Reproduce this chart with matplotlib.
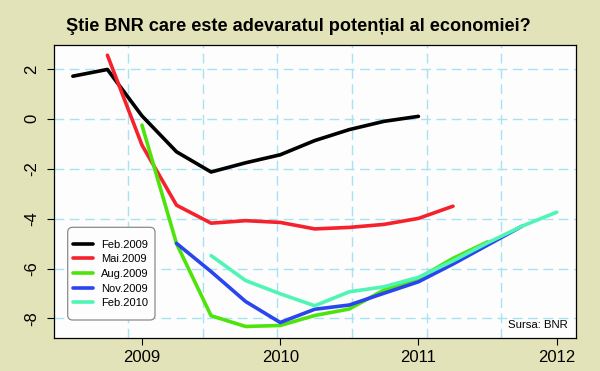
import numpy as np
import matplotlib
matplotlib.use("Agg")
import matplotlib.pyplot as plt
from matplotlib import font_manager
from matplotlib.patches import FancyBboxPatch

# ---------------- data ----------------
quarters = [2008.5, 2008.75, 2009.0, 2009.25, 2009.5, 2009.75, 2010.0, 2010.25,
            2010.5, 2010.75, 2011.0, 2011.25, 2011.5, 2011.75, 2012.0]
nan = np.nan
feb2009 = [1.71, 1.98, 0.12, -1.32, -2.13, -1.76, -1.44, -0.87, -0.43, -0.10, 0.10, nan, nan, nan, nan]
mai2009 = [nan, 2.55, -1.05, -3.46, -4.18, -4.08, -4.15, -4.41, -4.35, -4.23, -3.99, -3.50, nan, nan, nan]
aug2009 = [nan, nan, -0.25, -5.00, -7.89, -8.32, -8.28, -7.88, -7.62, -6.86, -6.39, -5.59, -4.93, nan, nan]
nov2009 = [nan, nan, nan, -4.99, -6.12, -7.32, -8.16, -7.63, -7.46, -6.99, -6.53, -5.82, -5.06, -4.30, nan]
feb2010 = [nan, nan, nan, nan, -5.48, -6.48, -7.01, -7.49, -6.93, -6.73, -6.35, -5.69, -4.97, -4.30, -3.74]

series_labels = ["Feb.2009", "Mai.2009", "Aug.2009", "Nov.2009", "Feb.2010"]
series_values = [feb2009, mai2009, aug2009, nov2009, feb2010]
series_colors = ["#000000", "#f5222d", "#4ee40b", "#2a45f0", "#4ff5b4"]

x_ticks = [2009, 2010, 2011, 2012]
y_ticks = [-8, -6, -4, -2, 0, 2]
title = "Ştie BNR care este adevaratul potențial al economiei?"
source = "Sursa: BNR"

# ---------------- fonts ----------------
names = {f.name for f in font_manager.fontManager.ttflist}
narrow = "Liberation Sans Narrow" if "Liberation Sans Narrow" in names else "Liberation Sans"
regular = "Liberation Sans"

W, H, DPI = 600, 371, 100
bg = "#e3e3b9"
fig = plt.figure(figsize=(W / DPI, H / DPI), dpi=DPI, facecolor=bg)

l, r, b, t = 53.5, 576, 337.7, 45
ax = fig.add_axes([l / W, (H - b) / H, (r - l) / W, (b - t) / H])
ax.set_facecolor("#fdfdfd")

xlim = (2008.36, 2012.14)
ylim = (-8.77, 2.96)
ax.set_xlim(*xlim)
ax.set_ylim(*ylim)

grid_kw = dict(color="#a6e2f2", lw=1.0, dashes=(7, 4), zorder=1)
for k in range(1, 7):
    ax.axvline(xlim[0] + k * (xlim[1] - xlim[0]) / 7, **grid_kw)
for yv in y_ticks:
    ax.axhline(yv, **grid_kw)

for vals, lab, col in zip(series_values, series_labels, series_colors):
    ax.plot(quarters, vals, color=col, lw=2.6, label=lab, zorder=3,
            solid_capstyle="round", solid_joinstyle="round")

ax.set_xticks(x_ticks)
ax.set_xticklabels([str(v) for v in x_ticks], fontfamily=narrow, fontsize=12)
ax.set_yticks(y_ticks)
ax.set_yticklabels([str(v) for v in y_ticks], fontfamily=narrow, fontsize=12,
                   rotation=90, va="center")
ax.tick_params(axis="x", length=5, width=0.8, pad=4, colors="black")
ax.tick_params(axis="y", length=5, width=0.8, pad=5, colors="black")
for s in ax.spines.values():
    s.set_linewidth(0.9)
    s.set_color("black")

# legend box (rounded) and legend entries
box = FancyBboxPatch((67.7 / DPI, (H - 320) / DPI), (155 - 67.7) / DPI, (320 - 227.3) / DPI,
                     boxstyle="round,pad=0,rounding_size=0.05",
                     transform=fig.dpi_scale_trans, facecolor="#fdfdfd",
                     edgecolor="#8a8a8a", lw=0.9, zorder=5)
ax.add_artist(box)
box.set_clip_on(False)
leg = ax.legend(loc="upper left", bbox_to_anchor=(73 / W, (H - 239.5) / H),
                bbox_transform=fig.transFigure, frameon=False, borderpad=0,
                borderaxespad=0, handlelength=1.8, handletextpad=0.75,
                labelspacing=0.42, prop={"family": regular, "size": 8})
leg.set_zorder(6)

ax.text(0.985, 0.028, source, transform=ax.transAxes, ha="right", va="bottom",
        fontfamily=regular, fontsize=8.2, zorder=6)

# title, scaled to match the reference width
tt = fig.text(298.5 / W, (H - 30.7) / H, title, ha="center", va="baseline",
              fontfamily=narrow, fontweight="bold", fontsize=15)
fig.canvas.draw()
w = tt.get_window_extent().width
tt.set_fontsize(15 * 466 / w)

fig.savefig("out.png", dpi=DPI, facecolor=bg)
